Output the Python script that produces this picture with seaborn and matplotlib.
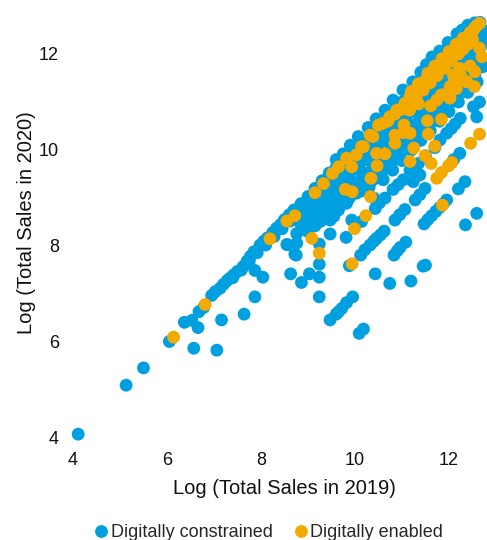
import pandas as pd
import seaborn as sns
import matplotlib.pyplot as plt

# values, (log sales 2019, log sales 2020)
constrained_low = [(4.11, 4.08), (5.13, 5.10), (5.50, 5.46), (6.05, 6.01), (6.57, 5.87), (7.06, 5.83),
                   (6.66, 6.30), (6.37, 6.41), (6.53, 6.45), (6.68, 6.63), (6.78, 6.72), (6.95, 6.97),
                   (7.03, 7.05), (7.13, 7.12), (7.20, 7.20), (7.28, 7.28), (7.34, 7.33), (7.42, 7.40),
                   (7.50, 7.47), (7.62, 7.57), (7.70, 7.68), (7.77, 7.78), (7.85, 7.88), (7.98, 8.02),
                   (8.06, 8.10), (8.14, 8.17), (8.25, 8.28), (8.33, 8.37), (8.42, 8.45), (8.50, 8.55),
                   (8.60, 8.65), (8.70, 8.75), (7.16, 6.46), (7.64, 6.58), (7.87, 6.94), (7.87, 7.49),
                   (8.04, 7.35), (8.63, 7.42), (8.86, 7.24), (9.03, 7.42), (9.24, 7.35), (9.24, 6.94),
                   (9.24, 7.62), (9.24, 8.04), (8.75, 7.81), (8.56, 8.03), (8.76, 8.06), (9.47, 8.25),
                   (8.76, 8.26), (8.72, 7.83), (8.55, 8.03), (7.40, 7.34), (7.58, 7.50), (7.75, 7.68),
                   (7.92, 7.86), (8.10, 8.02), (8.28, 8.20), (8.45, 8.36), (8.62, 8.52)]
constrained_offdiag = [(9.47, 6.46), (9.60, 6.58), (9.65, 6.63), (9.72, 6.70), (9.82, 6.82), (9.95, 6.94),
                       (10.09, 6.18), (10.18, 6.27), (10.43, 7.42), (10.74, 7.22), (11.19, 7.27), (11.45, 7.58),
                       (11.50, 7.60), (10.83, 7.81), (10.90, 7.90), (10.96, 7.97), (11.08, 8.08), (9.88, 7.59),
                       (9.81, 8.18), (10.12, 7.81), (10.21, 7.92), (10.32, 8.02), (10.40, 8.10), (10.46, 8.16),
                       (10.54, 8.23), (10.62, 8.31), (10.85, 8.54), (10.95, 8.65), (11.06, 8.76), (11.28, 8.96),
                       (11.38, 9.07), (11.49, 9.20), (11.47, 8.46), (11.55, 8.55), (11.63, 8.63), (11.72, 8.72),
                       (11.80, 8.80), (11.88, 8.88), (11.95, 8.96), (12.20, 9.19), (12.34, 9.34), (12.35, 8.44),
                       (12.59, 8.68)]
constrained_cloud = [(9.60, 9.80), (9.75, 9.92), (9.90, 10.10), (10.07, 10.28), (10.28, 10.47), (10.45, 10.65),
                     (10.64, 10.83), (10.81, 11.04), (11.02, 11.25), (11.23, 11.42), (11.40, 11.62), (11.52, 11.78),
                     (11.64, 11.94), (11.80, 12.06), (11.98, 12.24), (12.17, 12.42), (12.28, 12.50), (12.40, 12.60),
                     (12.55, 12.65), (12.66, 12.66),
                     (8.85, 8.88), (9.00, 9.03), (9.15, 9.20), (9.30, 9.36), (9.45, 9.52), (9.60, 9.64),
                     (9.80, 9.82), (10.00, 10.02), (10.20, 10.20), (10.40, 10.42), (10.60, 10.60), (10.80, 10.80),
                     (11.00, 11.00), (11.20, 11.20), (11.40, 11.40), (11.60, 11.60), (11.80, 11.80), (12.00, 12.00),
                     (12.20, 12.20), (12.40, 12.40), (12.60, 12.60),
                     (8.80, 8.62), (9.00, 8.80), (9.20, 9.00), (9.40, 9.20), (9.60, 9.40), (9.80, 9.60),
                     (10.00, 9.80), (10.20, 10.00), (10.40, 10.20), (10.60, 10.40), (10.80, 10.60), (11.00, 10.80),
                     (11.20, 11.00), (11.40, 11.20), (11.60, 11.40), (11.80, 11.60), (12.00, 11.80), (12.20, 12.00),
                     (12.40, 12.20), (12.60, 12.40), (12.72, 12.50),
                     (8.85, 8.45), (9.00, 8.61), (9.20, 8.80), (9.40, 9.00), (9.60, 9.20), (9.80, 9.40),
                     (10.00, 9.60), (10.20, 9.80), (10.40, 10.00), (10.60, 10.20), (10.80, 10.40), (11.00, 10.60),
                     (11.20, 10.80), (11.40, 11.00), (11.60, 11.20), (11.80, 11.40), (12.00, 11.60), (12.20, 11.80),
                     (12.40, 12.00), (12.60, 12.20), (12.72, 12.30),
                     (9.26, 8.51), (9.47, 8.54), (9.43, 8.82), (9.65, 8.75), (9.82, 8.89), (10.03, 9.10),
                     (10.25, 9.30), (10.45, 9.50), (10.65, 9.70), (10.85, 9.90), (11.05, 10.10), (11.25, 10.30),
                     (11.45, 10.50), (11.65, 10.70), (11.85, 10.90), (12.05, 11.10), (12.25, 11.30), (12.45, 11.50),
                     (12.66, 11.72),
                     (9.93, 8.54), (10.25, 9.17), (10.40, 9.00), (10.60, 9.38), (10.80, 9.58), (11.00, 9.78),
                     (11.20, 10.00), (11.40, 10.20), (11.60, 10.40), (11.80, 10.60), (12.00, 10.80), (12.20, 11.00),
                     (12.40, 11.20), (12.60, 11.42), (12.73, 11.74),
                     (10.14, 8.51), (10.43, 8.78), (10.52, 8.90), (10.64, 9.00), (10.81, 9.18), (10.92, 9.28),
                     (11.03, 9.38), (11.17, 9.58), (11.35, 9.72), (11.50, 9.88), (11.70, 10.05), (11.81, 10.21),
                     (11.95, 10.35), (12.05, 10.45), (12.13, 10.54), (12.24, 10.66), (12.52, 10.90), (12.65, 11.00),
                     (11.24, 9.34), (11.38, 9.48), (12.23, 9.93), (12.10, 9.80), (12.59, 10.69), (9.00, 8.30),
                     (9.85, 9.05), (10.10, 9.25), (9.55, 8.95), (9.70, 9.10)]
constrained_fill = [(9.10, 9.00), (9.30, 9.20), (9.50, 9.40), (9.70, 9.60), (9.90, 9.80), (10.10, 10.00),
                    (10.30, 10.20), (10.50, 10.40), (10.70, 10.60), (10.90, 10.80), (11.10, 11.00), (11.30, 11.20),
                    (11.50, 11.40), (11.70, 11.60), (11.90, 11.80), (12.10, 12.00), (12.30, 12.20), (12.50, 12.40),
                    (9.10, 8.80), (9.30, 9.00), (9.50, 9.20), (9.70, 9.40), (9.90, 9.60), (10.10, 9.80),
                    (10.30, 10.00), (10.50, 10.20), (10.70, 10.40), (10.90, 10.60), (11.10, 10.80), (11.30, 11.00),
                    (11.50, 11.20), (11.70, 11.40), (11.90, 11.60), (12.10, 11.80), (12.30, 12.00), (12.50, 12.20),
                    (9.30, 8.78), (9.50, 8.98), (9.70, 9.18), (9.90, 9.38), (10.10, 9.58), (10.30, 9.78),
                    (10.50, 9.98), (10.70, 10.18), (10.90, 10.38), (11.10, 10.58), (11.30, 10.78), (11.50, 10.98),
                    (11.70, 11.18), (11.90, 11.38), (12.10, 11.58), (12.30, 11.78), (12.50, 11.98), (12.68, 12.16),
                    (9.55, 8.77), (9.75, 8.97), (9.95, 9.17), (10.15, 9.37), (10.35, 9.57), (10.55, 9.77),
                    (10.75, 9.97), (10.95, 10.17), (11.15, 10.37), (11.35, 10.57), (11.55, 10.77), (11.75, 10.97),
                    (11.95, 11.17), (12.15, 11.37), (12.35, 11.57), (12.55, 11.77), (12.70, 11.92),
                    (10.15, 9.15), (10.35, 9.35), (10.55, 9.55), (10.75, 9.75), (10.95, 9.95), (11.15, 10.15),
                    (11.35, 10.35), (11.55, 10.55), (11.75, 10.75), (11.95, 10.95), (12.15, 11.15), (12.35, 11.35),
                    (12.55, 11.55)]
constrained_fill_more = [(9.45, 8.80), (9.62, 8.97), (9.78, 9.13), (9.98, 9.33), (10.18, 9.53), (10.38, 9.73),
                         (10.58, 9.93), (10.78, 10.13), (10.98, 10.33), (11.18, 10.53), (11.38, 10.73), (11.58, 10.93),
                         (11.78, 11.13), (11.98, 11.33), (12.18, 11.53), (12.38, 11.73), (12.58, 11.93),
                         (9.88, 9.00), (10.06, 9.18), (10.26, 9.38), (10.46, 9.58), (10.66, 9.78), (10.86, 9.98),
                         (11.06, 10.18), (11.26, 10.38), (11.46, 10.58), (11.66, 10.78), (11.86, 10.98), (12.06, 11.18),
                         (12.26, 11.38), (12.46, 11.58), (12.66, 11.78),
                         (10.30, 9.22), (10.50, 9.42), (10.70, 9.62), (10.90, 9.82), (11.10, 10.02), (11.30, 10.22),
                         (11.50, 10.42), (11.70, 10.62), (11.90, 10.82), (12.10, 11.02), (12.30, 11.22), (12.50, 11.42),
                         (9.10, 8.62), (9.15, 8.42), (9.35, 8.60), (9.55, 8.62), (9.00, 8.45), (9.25, 8.70),
                         (8.95, 8.70), (9.10, 8.92), (9.40, 9.30), (9.55, 9.52), (9.75, 9.72), (9.95, 9.92)]

enabled_main = [(6.14, 6.10), (6.81, 6.78), (8.19, 8.15), (8.55, 8.52), (8.72, 8.63), (9.15, 9.11),
                (9.33, 9.30), (9.52, 9.51), (9.65, 9.65), (9.82, 9.83), (10.03, 9.90), (10.14, 10.07),
                (10.18, 10.07), (10.32, 10.31), (10.38, 10.28), (10.50, 10.52), (10.60, 10.56), (10.74, 10.69),
                (10.89, 10.83), (11.06, 10.97), (11.17, 11.11), (11.31, 11.25), (11.45, 11.39), (11.60, 11.53),
                (11.74, 11.67), (11.88, 11.80), (12.02, 11.93), (12.16, 12.08), (12.30, 12.22), (12.41, 12.36),
                (12.52, 12.50), (12.65, 12.64)]
enabled_strip = [(10.70, 10.60), (10.85, 10.75), (11.00, 10.85), (11.10, 10.90), (11.25, 11.15), (11.30, 11.10),
                 (11.45, 11.25), (11.50, 11.45), (11.60, 11.40), (11.75, 11.55), (11.90, 11.70), (12.05, 11.85),
                 (12.20, 12.00), (12.30, 12.10), (12.40, 12.20), (12.45, 12.45), (12.50, 12.30), (12.55, 12.55),
                 (12.60, 12.60), (11.20, 11.22), (11.35, 11.38), (11.55, 11.60), (11.70, 11.75), (11.85, 11.90),
                 (12.00, 12.05), (12.15, 12.20), (12.30, 12.33), (11.40, 11.32), (11.68, 11.60), (11.95, 11.88),
                 (12.10, 12.02), (12.25, 12.15), (12.36, 12.28)]
enabled_below = [(12.65, 12.12), (12.70, 11.94), (12.55, 11.63), (12.45, 11.75), (12.23, 11.70), (12.09, 11.56),
                 (12.02, 11.32), (12.16, 11.28), (12.38, 11.42), (12.54, 11.32), (12.02, 11.08), (11.84, 11.15),
                 (11.74, 11.04), (11.61, 10.92), (11.35, 10.96), (11.16, 10.83), (11.84, 10.64), (11.54, 10.61),
                 (11.56, 10.33), (11.04, 10.52), (11.17, 10.35), (11.03, 10.36), (10.85, 10.31), (10.85, 10.14),
                 (11.25, 10.04), (11.70, 10.08), (12.65, 10.33), (12.46, 10.14), (12.06, 9.74), (11.99, 9.67),
                 (11.62, 9.72), (11.49, 9.88), (11.17, 9.76), (10.64, 9.92), (10.46, 9.93), (10.47, 9.67),
                 (9.93, 9.65), (9.79, 9.18), (9.94, 9.13), (10.34, 9.41), (10.33, 9.03), (10.23, 8.63),
                 (9.99, 8.36), (9.08, 8.16), (9.24, 7.85), (9.94, 7.63), (11.86, 8.85), (11.74, 9.41),
                 (11.84, 9.53), (12.25, 11.55), (12.30, 11.45), (12.10, 11.40)]

series_names = ['Digitally constrained', 'Digitally enabled']
series_colors = ['#009FDF', '#F2A900']
axis_ticks = [4, 6, 8, 10, 12]

constrained = constrained_low + constrained_offdiag + constrained_cloud + constrained_fill + constrained_fill_more
enabled = enabled_main + enabled_strip + enabled_below

df = pd.DataFrame(constrained + enabled, columns=['sales_2019', 'sales_2020'])
df['group'] = [series_names[0]] * len(constrained) + [series_names[1]] * len(enabled)

sns.set_style('white')
plt.rcParams['font.family'] = ['Liberation Sans', 'DejaVu Sans']

fig = plt.figure(figsize=(4.87, 5.4), dpi=100)
ax = fig.add_axes([73 / 487, 1 - 438 / 540, 414 / 487, 423 / 540])

sns.scatterplot(data=df, x='sales_2019', y='sales_2020', hue='group', hue_order=series_names,
                palette=series_colors, s=85, linewidth=0, alpha=1, clip_on=False, ax=ax)

ax.set_xlim(4, 4 + 414 / 47)
ax.set_ylim(4, 4 + 423 / 48)
ax.set_xticks(axis_ticks)
ax.set_yticks(axis_ticks)
ax.tick_params(length=0, labelsize=13, colors='#111111')
ax.tick_params(axis='y', pad=10)
ax.tick_params(axis='x', pad=10)
ax.set_xlabel('Log (Total Sales in 2019)', fontsize=14.5, color='#111111')
ax.set_ylabel('Log (Total Sales in 2020)', fontsize=14.5, color='#111111')
ax.xaxis.set_label_coords(0.511, -0.098)
ax.yaxis.set_label_coords(-0.09, 0.508)
sns.despine(ax=ax, left=True, bottom=True)

sns.move_legend(ax, 'lower center', bbox_to_anchor=(0.54, -0.019), bbox_transform=fig.transFigure,
                ncol=2, title=None, frameon=False, fontsize=13, handletextpad=-0.45,
                columnspacing=0.55, borderpad=0, markerscale=1)

fig.savefig('out.png', dpi=100)
